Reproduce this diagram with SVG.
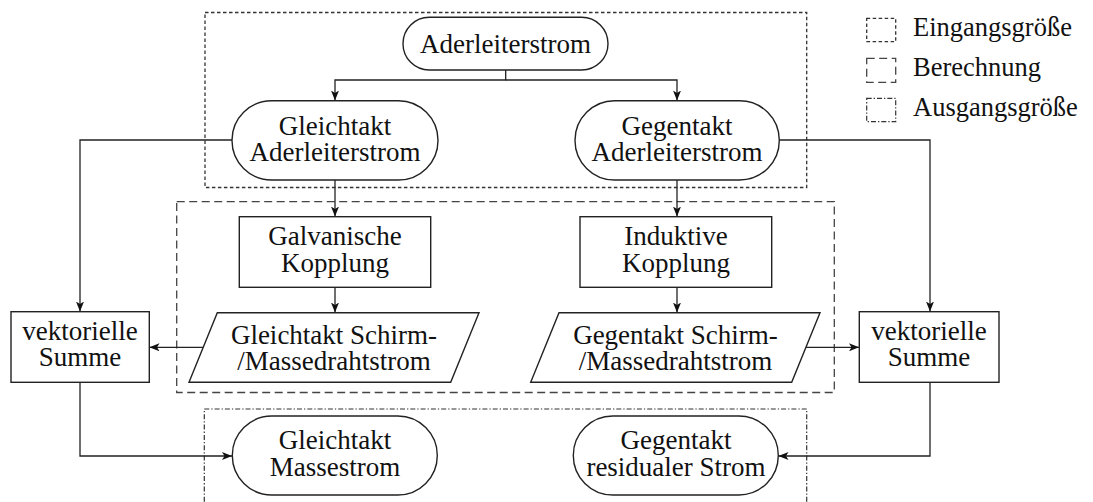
<svg xmlns="http://www.w3.org/2000/svg" width="1093" height="502" viewBox="0 0 1093 502" font-family="Liberation Serif, Times New Roman, serif">
<style>
.n{fill:#fff;stroke:#222;stroke-width:1.4}
.t{font-size:27px;fill:#111;text-anchor:middle}
.tl{font-size:26.5px;fill:#111;text-anchor:start}
.c{fill:none;stroke:#222;stroke-width:1.3}
.dot{fill:none;stroke:#333;stroke-width:1.3;stroke-dasharray:3.5 2.5}
.dash{fill:none;stroke:#444;stroke-width:1.3;stroke-dasharray:8 4.5}
.dd{fill:none;stroke:#333;stroke-width:1.2;stroke-dasharray:5 2 1.3 2}
</style>
<defs>
<marker id="ah" viewBox="0 0 10 8" refX="10" refY="4" markerWidth="10" markerHeight="8" markerUnits="userSpaceOnUse" orient="auto">
<path d="M0,0 L10,4 L0,8 L2.5,4 z" fill="#111"/>
</marker>
</defs>
<g id="groups">
<rect class="dot" x="205" y="12.5" width="601.7" height="175"/>
<rect class="dash" x="176.7" y="201.7" width="657.6" height="190.8"/>
<path class="dd" d="M204.3,512 V409 H806.7 V512"/>
</g>
<g id="legend" font-family="Liberation Serif, serif">
<rect class="dot" x="866.7" y="18.3" width="29" height="23.4"/>
<text class="tl" x="913" y="36" font-family="Liberation Serif, serif">Eingangsgröße</text>
<rect class="dash" x="866.7" y="58.3" width="29" height="24"/>
<text class="tl" x="913" y="76" font-family="Liberation Serif, serif">Berechnung</text>
<rect class="dd" x="866.7" y="98.3" width="29" height="23.4"/>
<text class="tl" x="913" y="116" font-family="Liberation Serif, serif">Ausgangsgröße</text>
</g>
<g id="connectors">
<path class="c" d="M505.7,70 V80 H335 V100.5" marker-end="url(#ah)"/>
<path class="c" d="M505.7,80 H677 V100.5" marker-end="url(#ah)"/>
<path class="c" d="M232,140 H80 V311.5" marker-end="url(#ah)"/>
<path class="c" d="M779,140 H930 V311.5" marker-end="url(#ah)"/>
<path class="c" d="M335,180 V216.5" marker-end="url(#ah)"/>
<path class="c" d="M335,287.3 V312.5" marker-end="url(#ah)"/>
<path class="c" d="M677,180 V216.5" marker-end="url(#ah)"/>
<path class="c" d="M677,287.3 V312.5" marker-end="url(#ah)"/>
<path class="c" d="M203.2,347.3 H149.5" marker-end="url(#ah)"/>
<path class="c" d="M805.9,347.3 H859" marker-end="url(#ah)"/>
<path class="c" d="M80,382.3 V456 H232" marker-end="url(#ah)"/>
<path class="c" d="M930,382.3 V456 H778.5" marker-end="url(#ah)"/>
</g>
<g id="aderleiterstrom" font-family="Liberation Serif, serif">
<rect class="n" x="403" y="17.3" width="205" height="52.7" rx="26.3"/>
<text class="t" x="505.5" y="53.3" font-family="Liberation Serif, serif">Aderleiterstrom</text>
</g>
<g id="gleichtakt-ader" font-family="Liberation Serif, serif">
<rect class="n" x="232" y="100.7" width="206" height="79.3" rx="39.6"/>
<text class="t" x="335" y="134.5" font-family="Liberation Serif, serif">Gleichtakt</text>
<text class="t" x="335" y="160.5" font-family="Liberation Serif, serif">Aderleiterstrom</text>
</g>
<g id="gegentakt-ader" font-family="Liberation Serif, serif">
<rect class="n" x="575" y="100.7" width="204.3" height="79.3" rx="39.6"/>
<text class="t" x="677" y="134.5" font-family="Liberation Serif, serif">Gegentakt</text>
<text class="t" x="677" y="160.5" font-family="Liberation Serif, serif">Aderleiterstrom</text>
</g>
<g id="galvanisch" font-family="Liberation Serif, serif">
<rect class="n" x="239.3" y="216.7" width="191.4" height="70.6"/>
<text class="t" x="335" y="245" font-family="Liberation Serif, serif">Galvanische</text>
<text class="t" x="335" y="271.5" font-family="Liberation Serif, serif">Kopplung</text>
</g>
<g id="induktiv" font-family="Liberation Serif, serif">
<rect class="n" x="580" y="216.7" width="191.7" height="70.6"/>
<text class="t" x="676" y="245" font-family="Liberation Serif, serif">Induktive</text>
<text class="t" x="676" y="271.5" font-family="Liberation Serif, serif">Kopplung</text>
</g>
<g id="gleichtakt-schirm" font-family="Liberation Serif, serif">
<polygon class="n" points="217.3,312.7 479,312.7 450.7,382.3 189,382.3"/>
<text class="t" x="334" y="344" font-family="Liberation Serif, serif">Gleichtakt Schirm-</text>
<text class="t" x="334" y="370" font-family="Liberation Serif, serif">/Massedrahtstrom</text>
</g>
<g id="gegentakt-schirm" font-family="Liberation Serif, serif">
<polygon class="n" points="559,312.7 820,312.7 791.7,382.3 530.7,382.3"/>
<text class="t" x="675.5" y="344" font-family="Liberation Serif, serif">Gegentakt Schirm-</text>
<text class="t" x="675.5" y="370" font-family="Liberation Serif, serif">/Massedrahtstrom</text>
</g>
<g id="summe-links" font-family="Liberation Serif, serif">
<rect class="n" x="11" y="311.7" width="138.3" height="70.6"/>
<text class="t" x="80" y="340" font-family="Liberation Serif, serif">vektorielle</text>
<text class="t" x="80" y="366" font-family="Liberation Serif, serif">Summe</text>
</g>
<g id="summe-rechts" font-family="Liberation Serif, serif">
<rect class="n" x="859.3" y="311.7" width="139.7" height="70.6"/>
<text class="t" x="929" y="340" font-family="Liberation Serif, serif">vektorielle</text>
<text class="t" x="929" y="366" font-family="Liberation Serif, serif">Summe</text>
</g>
<g id="gleichtakt-masse" font-family="Liberation Serif, serif">
<rect class="n" x="232.3" y="416" width="205" height="79" rx="39.5"/>
<text class="t" x="335" y="449" font-family="Liberation Serif, serif">Gleichtakt</text>
<text class="t" x="335" y="475.5" font-family="Liberation Serif, serif">Massestrom</text>
</g>
<g id="gegentakt-residual" font-family="Liberation Serif, serif">
<rect class="n" x="573.3" y="416" width="205" height="79" rx="39.5"/>
<text class="t" x="676" y="449" font-family="Liberation Serif, serif">Gegentakt</text>
<text class="t" x="676" y="475.5" font-family="Liberation Serif, serif">residualer Strom</text>
</g>
</svg>
